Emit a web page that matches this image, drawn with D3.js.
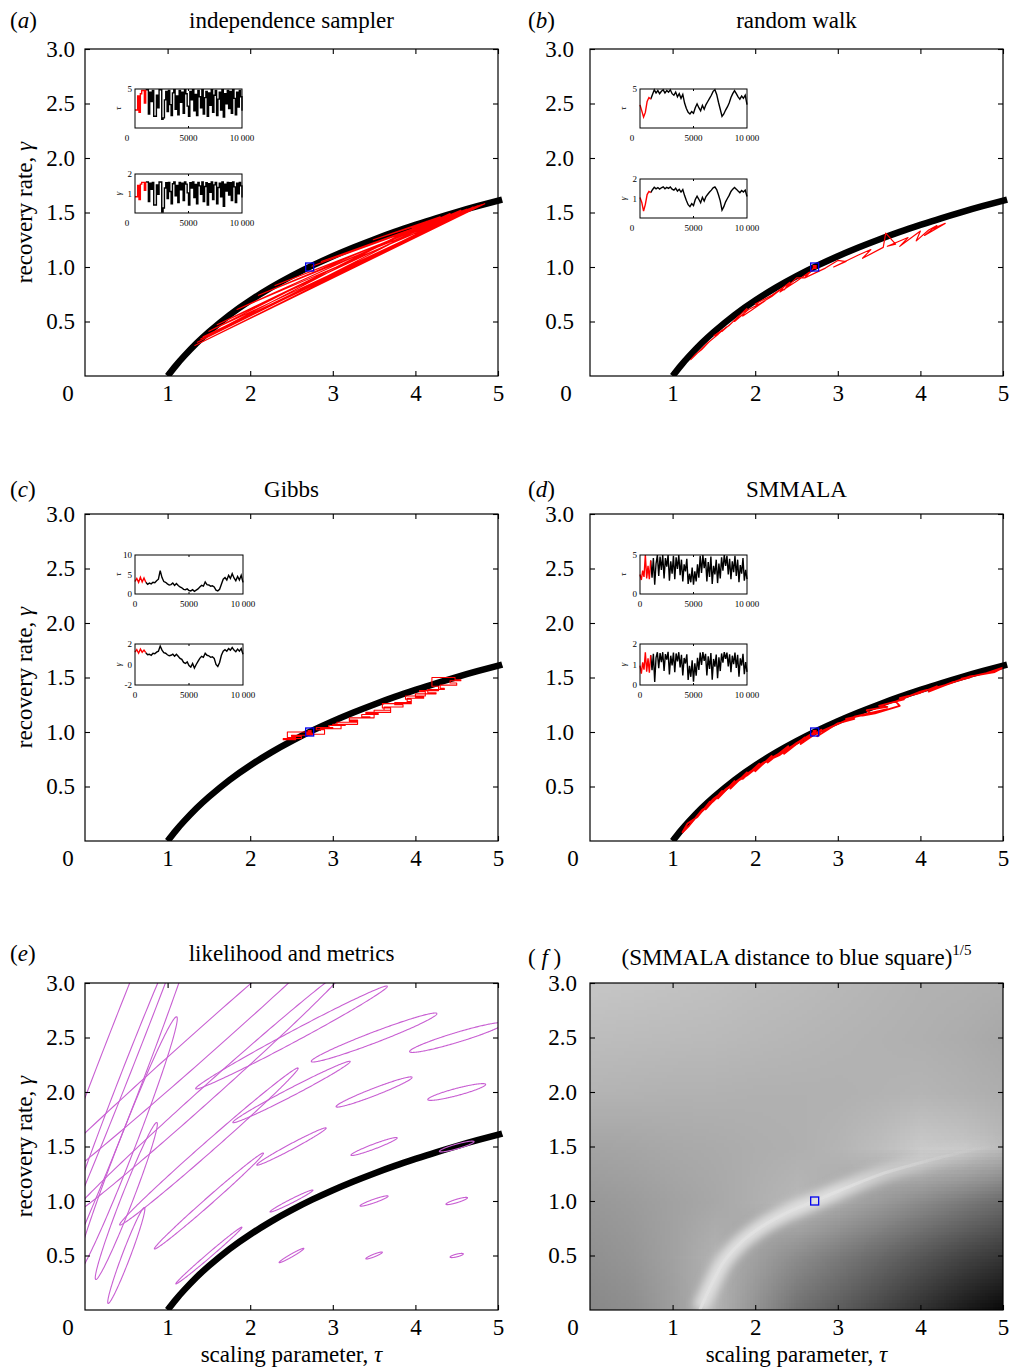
<!DOCTYPE html>
<html>
<head>
<meta charset="utf-8">
<script src="https://cdn.jsdelivr.net/npm/d3@7"></script>
<style>
  body { margin: 0; background: #fff; }
  svg { display: block; font-family: 'Liberation Serif', 'Times New Roman', serif; }
</style>
</head>
<body>
<script>
var W = 1009, H = 1368;
var PW = 413, PH = 327;
var FONT = "'Liberation Serif', 'Times New Roman', serif";

// likelihood ridge (thick black curve)
var ridgeTau   = [1.0, 1.1, 1.2, 1.35, 1.5, 1.75, 2.0, 2.25, 2.5, 2.75, 3.0, 3.25, 3.5, 3.75, 4.0, 4.25, 4.5, 4.75, 5.05];
var ridgeGamma = [0, 0.095, 0.182, 0.300, 0.405, 0.560, 0.693, 0.811, 0.916, 1.012, 1.099, 1.179, 1.253, 1.322, 1.386, 1.447, 1.504, 1.558, 1.619];
var target = [2.72, 1.0];
var xTicks = [1, 2, 3, 4, 5];
var yTicks = [0.5, 1.0, 1.5, 2.0, 2.5, 3.0];
var burnIn = 1000;

// (a) independence sampler: burn-in path in the plane
var redTauA   = [2.72, 4.84, 1.33, 4.70, 1.43, 4.80, 1.84, 4.42, 1.36, 4.62, 2.86, 4.75, 1.50, 4.14, 1.40, 4.84, 2.10, 4.55, 1.60, 4.30, 3.49, 4.80, 1.33, 4.68, 2.30, 4.84];
var redGammaA = [1.00, 1.58, 0.28, 1.55, 0.36, 1.57, 0.61, 1.49, 0.31, 1.53, 1.05, 1.56, 0.41, 1.42, 0.34, 1.58, 0.74, 1.52, 0.47, 1.46, 1.25, 1.57, 0.28, 1.54, 0.83, 1.58];
// (a) traces, 81 samples over 10 000 iterations
var traceTauA = [2.3, 2.3, 4.1, 2.0, 4.4, 4.8, 4.8, 3.2, 4.9,
  4.9, 1.8, 4.6, 3.4, 4.8, 1.5, 1.5, 4.2, 2.6, 4.9, 4.9, 1.1, 1.3, 3.6, 4.7, 2.1, 4.8, 3.0, 1.6, 4.5,
  4.9, 2.4, 4.1, 1.7, 4.8, 3.3, 4.6, 1.9, 4.9, 4.4, 2.8, 1.5, 4.7, 3.6, 4.9, 2.2, 4.3, 1.6, 4.8, 4.0,
  2.6, 4.9, 1.8, 3.9, 4.7, 1.5, 4.5, 2.9, 4.9, 2.0, 4.2, 4.8, 1.6, 3.7, 4.6, 2.3, 4.9, 1.4, 4.4, 3.1,
  4.8, 2.5, 4.7, 1.9, 4.9, 3.8, 1.7, 4.6, 2.7, 4.8, 4.0, 2.2];
var traceGammaA = [0.83, 0.83, 1.41, 0.69, 1.48, 1.57, 1.57, 1.16, 1.59,
  1.59, 0.59, 1.53, 1.22, 1.57, 0.41, 0.41, 1.44, 0.96, 1.59, 1.59, 0.05, 0.26, 1.28, 1.55, 0.74, 1.57, 1.10, 0.47, 1.50,
  1.59, 0.88, 1.41, 0.53, 1.57, 1.19, 1.53, 0.64, 1.59, 1.48, 1.03, 0.41, 1.55, 1.28, 1.59, 0.79, 1.46, 0.47, 1.57, 1.39,
  0.96, 1.59, 0.59, 1.36, 1.55, 0.41, 1.50, 1.06, 1.59, 0.69, 1.44, 1.57, 0.47, 1.31, 1.53, 0.83, 1.59, 0.34, 1.48, 1.13,
  1.57, 0.92, 1.55, 0.64, 1.59, 1.34, 0.53, 1.53, 0.99, 1.57, 1.39, 0.79];

// (b) random walk
var redTauB   = [2.72, 2.6, 2.5, 2.35, 2.42, 2.2, 2.05, 2.12, 1.95, 1.85, 1.9, 1.72, 1.6, 1.65, 1.5, 1.42, 1.3, 1.22, 1.28, 1.35, 1.45, 1.55, 1.5, 1.68, 1.8, 1.75, 1.92, 2.05, 2.0, 2.2, 2.35, 2.3, 2.5, 2.65, 2.6, 2.85, 3.0, 3.1, 2.95, 3.25, 3.4, 3.3, 3.55, 3.58, 3.7, 3.6, 3.85, 3.75, 4.0, 3.95, 4.1, 4.2, 4.05, 4.3, 4.15];
var redGammaB = [1.00, 0.90, 0.90, 0.79, 0.86, 0.73, 0.66, 0.69, 0.60, 0.55, 0.62, 0.49, 0.41, 0.45, 0.35, 0.30, 0.21, 0.15, 0.20, 0.24, 0.32, 0.38, 0.37, 0.46, 0.55, 0.50, 0.61, 0.66, 0.66, 0.74, 0.82, 0.77, 0.87, 0.95, 0.90, 0.99, 1.06, 1.05, 1.00, 1.11, 1.16, 1.08, 1.18, 1.31, 1.21, 1.19, 1.27, 1.19, 1.33, 1.24, 1.34, 1.38, 1.29, 1.40, 1.35];
var traceTauB = [2.97, 2.2, 1.4, 2.0, 3.4, 3.9, 3.7, 4.3, 4.9, 4.5, 4.8, 4.4, 4.7, 4.9, 4.5, 4.8, 4.6, 4.9, 4.4, 4.2,
  4.6, 4.0, 4.4, 3.8, 4.3, 3.2, 2.5, 2.0, 1.8, 2.1, 1.9, 2.6, 3.1, 2.6, 2.2, 2.9, 2.4, 3.0, 3.4, 3.8,
  4.2, 4.7, 4.9, 4.3, 3.3, 2.4, 1.5, 1.8, 2.3, 2.7, 3.2, 3.9, 4.4, 4.8, 4.4, 4.0, 3.7, 4.1, 3.8, 4.2, 3.0];
var traceGammaB = [1.05, 0.8, 0.35, 0.7, 1.2, 1.36, 1.3, 1.45, 1.58, 1.5, 1.56, 1.48, 1.55, 1.6, 1.5, 1.57, 1.52, 1.59, 1.48, 1.43,
  1.53, 1.38, 1.47, 1.33, 1.46, 1.15, 0.9, 0.68, 0.58, 0.74, 0.64, 0.95, 1.12, 0.96, 0.78, 1.06, 0.87, 1.1, 1.22, 1.33,
  1.43, 1.55, 1.59, 1.46, 1.19, 0.88, 0.4, 0.58, 0.83, 1.0, 1.16, 1.36, 1.48, 1.57, 1.48, 1.38, 1.3, 1.41, 1.33, 1.43, 1.1];

// (c) Gibbs
var redTauC   = [2.72, 2.45, 2.55, 2.4, 2.62, 2.5, 2.75, 2.68, 2.9, 2.8, 3.0, 2.95, 3.15, 3.05, 3.3, 3.2, 3.45, 3.35, 3.55, 3.5, 3.7, 3.62, 3.85, 3.75, 3.95, 3.9, 4.1, 4.0, 4.25, 4.15, 4.35, 4.3, 4.5, 4.42, 4.55, 4.48, 4.2, 4.28, 4.05, 4.12, 3.88, 3.95, 3.6, 3.7, 3.4, 3.5, 3.2, 3.3, 3.0, 3.1, 2.85];
var redGammaC = [1.00, 0.95, 0.93, 0.94, 0.96, 0.97, 0.99, 0.98, 1.02, 1.04, 1.03, 1.06, 1.07, 1.09, 1.10, 1.13, 1.14, 1.16, 1.17, 1.20, 1.20, 1.23, 1.25, 1.27, 1.28, 1.31, 1.32, 1.35, 1.36, 1.39, 1.40, 1.43, 1.45, 1.47, 1.48, 1.50, 1.42, 1.38, 1.37, 1.33, 1.30, 1.26, 1.22, 1.18, 1.17, 1.13, 1.11, 1.07, 1.06, 1.03, 1.01];
var traceTauC = [3.2, 4.0, 3.0, 4.3, 3.1, 4.1, 3.0, 2.5, 2.8, 2.6, 3.0, 2.9, 3.4, 3.8, 6.0, 4.2, 3.2, 3.0, 2.6, 2.3,
  2.4, 2.8, 2.2, 2.7, 2.2, 1.8, 1.6, 1.2, 1.1, 1.3, 0.9, 0.8, 1.1, 0.7, 1.0, 1.3, 1.8, 2.2, 2.0, 3.1,
  2.4, 2.3, 2.0, 2.1, 1.8, 1.0, 0.8, 1.2, 2.5, 3.8, 4.2, 3.6, 4.8, 4.0, 5.2, 4.1, 3.4, 4.5, 3.6, 4.8, 3.0];
var traceGammaC = [1.2, 1.45, 1.1, 1.5, 1.2, 1.4, 1.15, 0.95, 1.0, 0.9, 1.1, 1.05, 1.2, 1.3, 1.8, 1.4, 1.15, 1.1, 0.95, 0.85,
  0.9, 1.0, 0.8, 1.0, 0.8, 0.6, 0.5, 0.2, 0.1, 0.25, -0.1, -0.25, 0.1, -0.35, 0.0, 0.3, 0.6, 0.8, 0.7, 1.1,
  0.9, 0.85, 0.7, 0.75, 0.6, 0.0, -0.2, 0.2, 0.9, 1.3, 1.45, 1.3, 1.55, 1.4, 1.65, 1.4, 1.25, 1.5, 1.3, 1.55, 1.0];

// (d) SMMALA
var redTauD   = [2.72, 2.5, 2.3, 2.1, 1.9, 1.7, 1.5, 1.35, 1.2, 1.12, 1.18, 1.3, 1.45, 1.4, 1.6, 1.55, 1.75, 1.7, 1.9, 1.85,
  2.05, 2.0, 2.2, 2.15, 2.4, 2.35, 2.6, 2.55, 2.8, 2.75, 3.0, 3.2, 3.1, 3.4, 3.35, 3.6, 3.5, 3.8, 3.75, 4.0,
  4.2, 4.1, 4.4, 4.6, 4.5, 4.8, 5.0, 4.9, 4.6, 4.3, 4.0, 3.7, 3.75, 3.45, 3.3, 3.6, 3.2, 2.9, 2.6, 2.3,
  2.0, 1.75, 1.5, 1.3, 1.45, 1.65, 1.85, 2.1, 2.4, 2.7];
var redGammaD = [1.00, 0.90, 0.79, 0.72, 0.60, 0.51, 0.37, 0.28, 0.14, 0.08, 0.16, 0.22, 0.36, 0.29, 0.46, 0.39, 0.55, 0.48, 0.63, 0.57,
  0.71, 0.64, 0.78, 0.72, 0.87, 0.80, 0.95, 0.89, 1.02, 0.96, 1.08, 1.12, 1.12, 1.17, 1.20, 1.23, 1.24, 1.30, 1.31, 1.36,
  1.42, 1.37, 1.46, 1.50, 1.49, 1.54, 1.59, 1.55, 1.51, 1.43, 1.37, 1.28, 1.24, 1.17, 1.15, 1.21, 1.14, 1.04, 0.94, 0.80,
  0.67, 0.53, 0.39, 0.23, 0.34, 0.48, 0.59, 0.72, 0.85, 0.98];
var traceTauD = [2.5, 1.8, 3.0, 2.2, 5.0, 2.0, 3.6, 1.9, 4.3,
  2.1, 4.6, 1.2, 3.9, 5.0, 2.3, 4.8, 3.1, 5.0, 2.0, 4.6, 3.5, 5.0, 1.7, 4.2, 2.6, 4.9, 1.9, 4.7, 3.2,
  5.0, 2.4, 4.4, 1.6, 3.8, 2.9, 4.5, 1.3, 2.6, 1.5, 3.4, 1.2, 2.9, 1.6, 3.8, 2.1, 4.9, 2.7, 5.0, 3.3,
  4.6, 1.6, 4.1, 2.2, 4.8, 1.3, 3.6, 2.5, 4.4, 1.4, 3.9, 2.0, 4.7, 3.0, 5.0, 3.6, 4.9, 2.5, 4.5, 1.9,
  4.2, 2.8, 4.9, 2.3, 4.4, 1.5, 3.7, 2.6, 4.6, 1.7, 3.1, 1.9];
var traceGammaD = [0.95, 0.55, 1.1, 0.75, 1.6, 0.65, 1.3, 0.6, 1.45,
  0.72, 1.52, 0.15, 1.34, 1.6, 0.82, 1.56, 1.12, 1.6, 0.68, 1.51, 1.24, 1.62, 0.52, 1.43, 0.95, 1.58, 0.63, 1.54, 1.15,
  1.6, 0.86, 1.47, 0.46, 1.32, 1.05, 1.5, 0.25, 0.94, 0.4, 1.2, 0.16, 1.06, 0.45, 1.33, 0.73, 1.58, 0.98, 1.61, 1.18,
  1.52, 0.46, 1.4, 0.78, 1.56, 0.26, 1.27, 0.9, 1.48, 0.33, 1.35, 0.68, 1.54, 1.09, 1.6, 1.28, 1.58, 0.91, 1.5, 0.63,
  1.43, 1.02, 1.58, 0.83, 1.47, 0.4, 1.3, 0.95, 1.52, 0.53, 1.12, 0.64];

// (e) metric ellipses: centre, half major axis (data units), minor/major ratio
var ellTau    = [0.5, 0.5, 0.5, 0.5, 0.5, 1.5, 1.5, 1.5, 1.5, 1.5, 2.5, 2.5, 2.5, 2.5, 2.5, 3.5, 3.5, 3.5, 3.5, 3.5, 4.5, 4.5, 4.5, 4.5, 4.5];
var ellGamma  = [0.5, 1.0, 1.5, 2.0, 2.5, 0.5, 1.0, 1.5, 2.0, 2.5, 0.5, 1.0, 1.5, 2.0, 2.5, 0.5, 1.0, 1.5, 2.0, 2.5, 0.5, 1.0, 1.5, 2.0, 2.5];
var ellDTau   = [0.22, 0.37, 0.61, 1.0, 1.65, 0.40, 0.66, 1.08, 1.65, 2.6, 0.15, 0.26, 0.42, 0.71, 1.16, 0.10, 0.17, 0.28, 0.46, 0.76, 0.08, 0.13, 0.21, 0.35, 0.57];
var ellDGamma = [0.44, 0.72, 1.19, 1.96, 3.2, 0.26, 0.44, 0.72, 1.12, 1.75, 0.065, 0.10, 0.17, 0.28, 0.47, 0.03, 0.045, 0.08, 0.135, 0.22, 0.015, 0.03, 0.045, 0.07, 0.13];
var ellRatio  = [0.08, 0.07, 0.06, 0.05, 0.045, 0.05, 0.05, 0.045, 0.04, 0.045, 0.1, 0.08, 0.07, 0.06, 0.05, 0.15, 0.12, 0.1, 0.09, 0.08, 0.2, 0.15, 0.13, 0.12, 0.1];

// (f) grey level of (distance)^(1/5), rows gamma = 3 .. 0, columns tau = 0 .. 5
var distTau = [0, 0.5, 1, 1.5, 2, 2.5, 3, 3.5, 4, 4.5, 5];
var distGamma = [3, 2.5, 2, 1.5, 1, 0.5, 0];
var distGrey = [
  [198, 196, 194, 192, 189, 187, 184, 181, 178, 177, 175],
  [189, 188, 187, 186, 184, 182, 180, 178, 176, 173, 168],
  [180, 179, 178, 178, 177, 177, 177, 179, 181, 178, 174],
  [164, 166, 169, 171, 174, 176, 181, 190, 202, 198, 186],
  [152, 156, 162, 168, 176, 184, 170, 154, 138, 122, 106],
  [144, 150, 162, 178, 160, 140, 122, 104, 86, 68, 54],
  [136, 142, 158, 180, 146, 112, 92, 70, 48, 26, 6]
];
var valleyTau   = [1.33, 1.45, 1.6, 1.8, 2.05, 2.35, 2.72, 3.1, 3.5, 3.9, 4.3, 4.7, 5.0];
var valleyGamma = [0, 0.2, 0.42, 0.6, 0.75, 0.88, 1.0, 1.12, 1.24, 1.33, 1.41, 1.48, 1.52];

var panels = [
  {key: 'a', title: 'independence sampler', left: 85, top: 49, labX: 10, titleY: 28, pad: 10, zeroDx: -17, ylab: true},
  {key: 'b', title: 'random walk', left: 590, top: 49, labX: 528, titleY: 28, pad: 16, zeroDx: -24},
  {key: 'c', title: 'Gibbs', left: 85, top: 514, labX: 10, titleY: 497, pad: 10, zeroDx: -17, ylab: true},
  {key: 'd', title: 'SMMALA', left: 590, top: 514, labX: 528, titleY: 497, pad: 16, zeroDx: -17},
  {key: 'e', title: 'likelihood and metrics', left: 85, top: 983, labX: 10, titleY: 961, pad: 10, zeroDx: -17, ylab: true, xlab: true},
  {key: 'f', title: '(SMMALA distance to blue square)', sup: '1/5', left: 590, top: 983, labX: 528, titleY: 965, pad: 13, zeroDx: -17, xlab: true}
];

var svg = d3.select('body').append('svg').attr('width', W).attr('height', H);
var defs = svg.append('defs');
defs.append('filter').attr('id', 'soft').append('feGaussianBlur').attr('stdDeviation', 0.6);
defs.append('filter').attr('id', 'glow').attr('x', '-20%').attr('y', '-20%').attr('width', '140%').attr('height', '140%')
  .append('feGaussianBlur').attr('stdDeviation', 4.5);

var zip = function (a, b) { return a.map(function (v, i) { return [v, b[i]]; }); };

panels.forEach(function (p) {
  var x = d3.scaleLinear().domain([0, 5]).range([p.left, p.left + PW]);
  var y = d3.scaleLinear().domain([0, 3]).range([p.top + PH, p.top]);
  var g = svg.append('g').attr('class', 'panel-' + p.key);
  var line = function (curve) {
    return d3.line().x(function (d) { return x(d[0]); }).y(function (d) { return y(d[1]); }).curve(curve);
  };

  defs.append('clipPath').attr('id', 'clip-' + p.key).append('rect')
    .attr('x', x(0)).attr('y', y(3)).attr('width', PW).attr('height', PH);
  defs.append('clipPath').attr('id', 'clipw-' + p.key).append('rect')
    .attr('x', x(0)).attr('y', y(3)).attr('width', PW + 6).attr('height', PH);

  if (p.key === 'f') drawDistance(g.append('g').attr('clip-path', 'url(#clip-f)'), x, y);
  if (p.key !== 'f') {
    g.append('g').attr('clip-path', 'url(#clipw-' + p.key + ')')
      .append('path').datum(zip(ridgeTau, ridgeGamma))
      .attr('d', line(d3.curveNatural))
      .attr('fill', 'none').attr('stroke', '#000').attr('stroke-width', 6.5)
      .attr('filter', 'url(#soft)');
  }
  var inner = g.append('g').attr('clip-path', 'url(#clip-' + p.key + ')');

  if (p.key === 'a') redPath(inner, line(d3.curveLinear), zip(redTauA, redGammaA), 1.1);
  if (p.key === 'b') redPath(inner, line(d3.curveLinear), zip(redTauB, redGammaB), 1.2);
  if (p.key === 'c') redPath(inner, line(d3.curveStepAfter), zip(redTauC, redGammaC), 1.1);
  if (p.key === 'd') redPath(inner, line(d3.curveLinear), zip(redTauD, redGammaD), 1.8);
  if (p.key === 'e') drawEllipses(inner, x, y);

  if (p.key !== 'e') {
    var sq = g.append('g').attr('transform', 'translate(' + x(target[0]) + ',' + y(target[1]) + ')');
    if (p.key !== 'f') sq.append('rect').attr('x', -2).attr('y', -2).attr('width', 4).attr('height', 4)
      .attr('fill', p.key === 'a' ? '#000' : '#f00');
    sq.append('rect').attr('x', -4).attr('y', -4).attr('width', 8).attr('height', 8)
      .attr('fill', 'none').attr('stroke', '#0000ee').attr('stroke-width', 1.3);
  }

  // axes: ticks inward on all four sides
  var ax = g.append('g');
  ax.append('g').attr('transform', 'translate(0,' + y(0) + ')')
    .call(d3.axisBottom(x).tickValues(xTicks).tickSizeInner(-5).tickSizeOuter(0).tickPadding(9).tickFormat(d3.format('d')));
  ax.append('g').attr('transform', 'translate(' + x(0) + ',0)')
    .call(d3.axisLeft(y).tickValues(yTicks).tickSizeInner(-5).tickSizeOuter(0).tickPadding(p.pad).tickFormat(d3.format('.1f')));
  ax.append('g').attr('transform', 'translate(' + x(5) + ',0)')
    .call(d3.axisRight(y).tickValues(yTicks).tickSizeInner(-5).tickSizeOuter(0).tickFormat(''));
  ax.append('g').attr('transform', 'translate(0,' + y(3) + ')')
    .call(d3.axisTop(x).tickValues(xTicks).tickSizeInner(-5).tickSizeOuter(0).tickFormat(''));
  ax.selectAll('.domain').remove();
  ax.selectAll('.tick line').attr('stroke', '#000').attr('stroke-width', 1.1);
  ax.append('text').attr('x', x(0) + p.zeroDx).attr('y', y(0) + 9).attr('dy', '0.71em')
    .attr('text-anchor', 'middle').text('0');
  ax.selectAll('text').attr('fill', '#000').attr('font-size', 23).attr('font-family', FONT);

  g.append('rect').attr('x', x(0)).attr('y', y(3)).attr('width', PW).attr('height', PH)
    .attr('fill', 'none').attr('stroke', '#000').attr('stroke-width', 1.2);

  // titles and labels
  var t = g.append('text').attr('x', x(2.5)).attr('y', p.titleY).attr('text-anchor', 'middle').attr('font-size', 23).text(p.title);
  if (p.sup) t.append('tspan').attr('font-size', 15).attr('dy', -10).text(p.sup);
  var lab = g.append('text').attr('x', p.labX).attr('y', p.titleY).attr('font-size', 23);
  lab.append('tspan').text(p.key === 'f' ? '( ' : '(');
  lab.append('tspan').attr('font-style', 'italic').text(p.key);
  lab.append('tspan').text(p.key === 'f' ? ' )' : ')');
  if (p.ylab) {
    var yl = g.append('text').attr('transform', 'translate(32,' + y(1.5) + ') rotate(-90)')
      .attr('text-anchor', 'middle').attr('font-size', 23);
    yl.append('tspan').text('recovery rate, ');
    yl.append('tspan').attr('font-style', 'italic').text('γ');
  }
  if (p.xlab) {
    var xl = g.append('text').attr('x', x(2.5)).attr('y', 1362).attr('text-anchor', 'middle').attr('font-size', 23);
    xl.append('tspan').text('scaling parameter, ');
    xl.append('tspan').attr('font-style', 'italic').text('τ');
  }

  // trace insets
  var L = p.left + 50;
  if (p.key === 'a') {
    inset(g, {x: L, y: p.top + 40, w: 107, h: 39}, traceTauA, [0, 5], [5], 'τ', -8, d3.curveStepAfter);
    inset(g, {x: L, y: p.top + 125, w: 107, h: 39}, traceGammaA, [0, 2], [2, 1], 'γ', -8, d3.curveStepAfter);
  }
  if (p.key === 'b') {
    inset(g, {x: L, y: p.top + 40, w: 107, h: 39}, traceTauB, [0, 5], [5], 'τ', -8, d3.curveLinear);
    inset(g, {x: L, y: p.top + 130, w: 107, h: 39}, traceGammaB, [0, 2], [2, 1], 'γ', -8, d3.curveLinear);
  }
  if (p.key === 'c') {
    inset(g, {x: L, y: p.top + 41, w: 108, h: 39}, traceTauC, [0, 10], [10, 5, 0], 'τ', 0, d3.curveLinear);
    inset(g, {x: L, y: p.top + 130, w: 108, h: 41}, traceGammaC, [-2, 2], [2, 0, -2], 'γ', 0, d3.curveLinear);
  }
  if (p.key === 'd') {
    inset(g, {x: L, y: p.top + 41, w: 107, h: 39}, traceTauD, [0, 5], [5, 0], 'τ', 0, d3.curveLinear);
    inset(g, {x: L, y: p.top + 130, w: 107, h: 41}, traceGammaD, [0, 2], [2, 1, 0], 'γ', 0, d3.curveLinear);
  }
});

function redPath(g, line, pts, width) {
  g.append('path').datum(pts).attr('d', line)
    .attr('fill', 'none').attr('stroke', '#f00').attr('stroke-width', width).attr('stroke-linejoin', 'round');
}

function inset(g, box, vals, dom, labels, sym, zeroDx, curve) {
  var n = vals.length;
  var ix = d3.scaleLinear().domain([0, 10000]).range([box.x, box.x + box.w]);
  var iy = d3.scaleLinear().domain(dom).range([box.y + box.h, box.y]);
  var pts = vals.map(function (v, i) { return [i * 10000 / (n - 1), v]; });
  var ln = d3.line().x(function (d) { return ix(d[0]); }).y(function (d) { return iy(d[1]); }).curve(curve);
  var ig = g.append('g').attr('font-size', 9);
  ig.append('path').datum(pts.filter(function (d) { return d[0] >= burnIn; })).attr('d', ln)
    .attr('fill', 'none').attr('stroke', '#000').attr('stroke-width', 1.4);
  ig.append('path').datum(pts.filter(function (d) { return d[0] <= burnIn; })).attr('d', ln)
    .attr('fill', 'none').attr('stroke', '#f00').attr('stroke-width', 1.4);
  ig.append('rect').attr('x', box.x).attr('y', box.y).attr('width', box.w).attr('height', box.h)
    .attr('fill', 'none').attr('stroke', '#000').attr('stroke-width', 1);
  [5000].forEach(function (v) {
    ig.append('line').attr('x1', ix(v)).attr('x2', ix(v)).attr('y1', box.y).attr('y2', box.y + 2).attr('stroke', '#000');
    ig.append('line').attr('x1', ix(v)).attr('x2', ix(v)).attr('y1', box.y + box.h).attr('y2', box.y + box.h - 2).attr('stroke', '#000');
  });
  labels.forEach(function (v) {
    ig.append('text').attr('x', box.x - 3).attr('y', iy(v) + 3).attr('text-anchor', 'end').text(v);
  });
  ig.append('text').attr('x', ix(0) + zeroDx).attr('y', box.y + box.h + 13).attr('text-anchor', 'middle').text('0');
  ig.append('text').attr('x', ix(5000)).attr('y', box.y + box.h + 13).attr('text-anchor', 'middle').text('5000');
  ig.append('text').attr('x', ix(10000)).attr('y', box.y + box.h + 13).attr('text-anchor', 'middle').text('10\u2009000');
  ig.append('text').attr('transform', 'translate(' + (box.x - 14) + ',' + (box.y + box.h / 2) + ') rotate(-90)')
    .attr('text-anchor', 'middle').attr('font-style', 'italic').text(sym);
}

function drawEllipses(g, x, y) {
  ellTau.forEach(function (tc, i) {
    var cx = x(tc), cy = y(ellGamma[i]);
    var ax = x(tc + ellDTau[i]) - cx, ay = y(ellGamma[i] + ellDGamma[i]) - cy;
    var r = ellRatio[i], bx = -ay * r, by = ax * r;
    var pts = d3.range(0, 2 * Math.PI + 0.001, Math.PI / 120).map(function (t) {
      return [cx + Math.cos(t) * ax + Math.sin(t) * bx, cy + Math.cos(t) * ay + Math.sin(t) * by];
    });
    g.append('path').attr('d', d3.line()(pts)).attr('fill', 'none')
      .attr('stroke', '#c85fd2').attr('stroke-width', 1.1);
  });
}

function drawDistance(g, x, y) {
  var cnv = document.createElement('canvas');
  cnv.width = distTau.length; cnv.height = distGamma.length;
  var ctx = cnv.getContext('2d');
  var img = ctx.createImageData(cnv.width, cnv.height);
  distGrey.forEach(function (row, r) {
    row.forEach(function (v, c) {
      var k = (r * cnv.width + c) * 4;
      img.data[k] = img.data[k + 1] = img.data[k + 2] = v; img.data[k + 3] = 255;
    });
  });
  ctx.putImageData(img, 0, 0);
  var dx = (distTau[1] - distTau[0]) / 2, dy = (distGamma[0] - distGamma[1]) / 2;
  g.append('image').attr('href', cnv.toDataURL())
    .attr('x', x(distTau[0] - dx)).attr('y', y(distGamma[0] + dy))
    .attr('width', x(distTau[distTau.length - 1] + dx) - x(distTau[0] - dx))
    .attr('height', y(distGamma[distGamma.length - 1] - dy) - y(distGamma[0] + dy))
    .attr('preserveAspectRatio', 'none');
  var grad = defs.append('linearGradient').attr('id', 'valleyFade').attr('gradientUnits', 'userSpaceOnUse')
    .attr('x1', x(1.3)).attr('x2', x(5)).attr('y1', 0).attr('y2', 0);
  [[0, 0.95], [0.45, 0.95], [0.65, 0.5], [0.85, 0.15], [1, 0]].forEach(function (s) {
    grad.append('stop').attr('offset', s[0]).attr('stop-color', '#e2e2e2').attr('stop-opacity', s[1]);
  });
  var vl = d3.line().x(function (d) { return x(d[0]); }).y(function (d) { return y(d[1]); }).curve(d3.curveMonotoneX);
  var vp = zip(valleyTau, valleyGamma);
  g.append('path').datum(vp).attr('d', vl).attr('fill', 'none').attr('stroke', 'url(#valleyFade)')
    .attr('stroke-width', 16).attr('filter', 'url(#glow)');
  g.append('path').datum(vp).attr('d', vl).attr('fill', 'none').attr('stroke', 'url(#valleyFade)')
    .attr('stroke-width', 3).attr('stroke-opacity', 0.8).attr('filter', 'url(#soft)');
}
</script>
</body>
</html>
